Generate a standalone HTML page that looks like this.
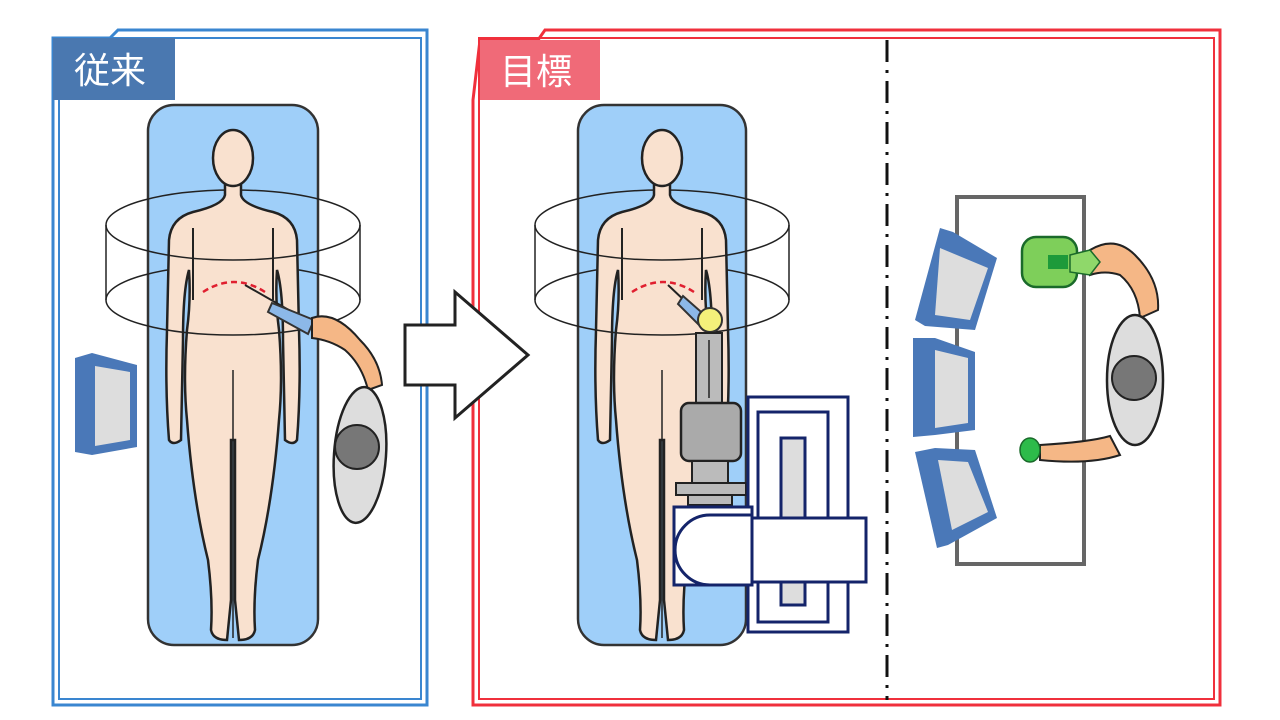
<!DOCTYPE html>
<html><head><meta charset="utf-8"><style>
html,body{margin:0;padding:0;background:#fff;width:1280px;height:720px;overflow:hidden}
svg{display:block}
.t{font-family:"Liberation Sans","Noto Sans CJK JP",sans-serif;font-size:36px;fill:#fff}
</style></head><body>
<svg width="1280" height="720" viewBox="0 0 1280 720" xmlns="http://www.w3.org/2000/svg">
<defs>
<g id="body">
<path d="M-8,183 L-8,195 Q-10,205 -40,212 Q-62,218 -64,240 L-66,330 Q-68,390 -64,440 Q-60,446 -52,440 L-50,340 Q-50,290 -44,270 Q-42,300 -46,330 Q-50,380 -46,420 Q-40,500 -25,560 Q-20,600 -22,630 Q-20,640 -6,640 L-2,600 L-2,440 L2,440 L2,600 L6,640 Q20,640 22,630 Q20,600 25,560 Q40,500 46,420 Q50,380 46,330 Q42,300 44,270 Q50,290 50,340 L52,440 Q60,446 64,440 Q68,390 66,330 L64,240 Q62,218 40,212 Q10,205 8,195 L8,183 Z" fill="#f9e1cf" stroke="#222" stroke-width="2.5"/>
<ellipse cx="0" cy="158" rx="20" ry="28" fill="#f9e1cf" stroke="#222" stroke-width="2.5"/>
<line x1="0" y1="370" x2="0" y2="638" stroke="#222" stroke-width="1.5"/>
<line x1="-40" y1="228" x2="-40" y2="300" stroke="#222" stroke-width="2"/>
<line x1="40" y1="228" x2="40" y2="300" stroke="#222" stroke-width="2"/>
</g>
<g id="cylB" fill="none" stroke="#222" stroke-width="1.5">
<path d="M-127,225 A127,35 0 0 1 127,225"/>
<path d="M-127,300 A127,35 0 0 1 127,300"/>
</g>
<g id="cylF" fill="none" stroke="#222" stroke-width="1.5">
<path d="M-127,225 A127,35 0 0 0 127,225"/>
<path d="M-127,300 A127,35 0 0 0 127,300"/>
<line x1="-127" y1="225" x2="-127" y2="300"/>
<line x1="127" y1="225" x2="127" y2="300"/>
</g>
</defs>

<!-- Left panel -->
<path d="M53,38 L53,705 L427,705 L427,30 L118,30 L110,38 Z" fill="#fff" stroke="#3a86d0" stroke-width="3"/>
<rect x="59" y="38" width="362" height="661" fill="none" stroke="#3a86d0" stroke-width="2"/>
<rect x="53" y="38" width="122" height="62" fill="#4a78b0"/>
<text x="74" y="83" class="t">従来</text>

<rect x="148" y="105" width="170" height="540" rx="26" fill="#9fcff9" stroke="#333" stroke-width="2.5"/>
<g transform="translate(233,0)"><use href="#cylB"/><use href="#body"/><use href="#cylF"/></g>
<path d="M203,292 Q234,272 265,292" fill="none" stroke="#e02030" stroke-width="2.5" stroke-dasharray="6,4"/>
<!-- left doctor -->
<line x1="245" y1="285" x2="315" y2="325" stroke="#222" stroke-width="2"/>
<path d="M272,303 L314,320 L308,334 L268,312 Z" fill="#8cb8e8" stroke="#333" stroke-width="2"/>
<path d="M312,318 Q335,310 360,340 Q380,360 382,385 L368,390 Q362,365 345,350 Q330,340 312,338 Z" fill="#f5b786" stroke="#222" stroke-width="2"/>
<ellipse cx="360" cy="455" rx="26" ry="68" transform="rotate(4 360 455)" fill="#ddd" stroke="#222" stroke-width="2.5"/>
<circle cx="357" cy="447" r="22" fill="#777" stroke="#222" stroke-width="2"/>
<!-- left monitor -->
<path d="M75,358 L92,353 L137,365 L137,447 L92,455 L75,452 Z" fill="#4a78b8"/>
<path d="M95,366 L130,372 L130,440 L95,446 Z" fill="#ddd"/>

<!-- Right panel -->
<path d="M473,100 L473,705 L1220,705 L1220,30 L545,30 L538,40 L480,40 Z" fill="#fff" stroke="#f0303c" stroke-width="3"/>
<rect x="479" y="38" width="735" height="661" fill="none" stroke="#f0303c" stroke-width="2"/>
<rect x="480" y="40" width="120" height="60" fill="#f06a78"/>
<text x="500" y="84" class="t">目標</text>
<line x1="887" y1="40" x2="887" y2="700" stroke="#111" stroke-width="3" stroke-dasharray="22,8,3,8"/>

<!-- Arrow -->
<path d="M405,325 L455,325 L455,292 L528,355 L455,418 L455,385 L405,385 Z" fill="#fff" stroke="#222" stroke-width="3"/>

<rect x="578" y="105" width="168" height="540" rx="26" fill="#9fcff9" stroke="#333" stroke-width="2.5"/>
<g transform="translate(662,0)"><use href="#cylB"/><use href="#body"/><use href="#cylF"/></g>
<path d="M632,292 Q663,272 694,292" fill="none" stroke="#e02030" stroke-width="2.5" stroke-dasharray="6,4"/>
<!-- robot -->
<line x1="668" y1="285" x2="705" y2="320" stroke="#222" stroke-width="2"/>
<path d="M683,296 L708,318 L700,326 L678,304 Z" fill="#8cb8e8" stroke="#333" stroke-width="2"/>
<circle cx="710" cy="320" r="12" fill="#f4f07a" stroke="#333" stroke-width="2"/>
<rect x="696" y="333" width="26" height="70" fill="#bbb" stroke="#222" stroke-width="2"/>
<line x1="709" y1="340" x2="709" y2="398" stroke="#222" stroke-width="1.5"/>
<rect x="681" y="403" width="60" height="58" rx="8" fill="#aaa" stroke="#222" stroke-width="2.5"/>
<rect x="692" y="461" width="36" height="22" fill="#bbb" stroke="#222" stroke-width="2"/>
<rect x="676" y="483" width="70" height="12" fill="#bbb" stroke="#222" stroke-width="2"/>
<rect x="688" y="495" width="44" height="10" fill="#bbb" stroke="#222" stroke-width="2"/>
<rect x="748" y="397" width="100" height="235" fill="#fff" stroke="#14246a" stroke-width="3"/>
<rect x="758" y="412" width="70" height="210" fill="#fff" stroke="#14246a" stroke-width="3"/>
<rect x="781" y="438" width="24" height="167" fill="#ddd" stroke="#14246a" stroke-width="3"/>
<path d="M674,507 L752,507 L752,585 L674,585 Z" fill="#fff" stroke="#14246a" stroke-width="3"/>
<path d="M752,515 L710,515 A35,35 0 0 0 710,585 L752,585" fill="#fff" stroke="#14246a" stroke-width="3"/>
<rect x="752" y="518" width="114" height="64" fill="#fff" stroke="#14246a" stroke-width="3"/>

<!-- console -->
<rect x="957" y="197" width="127" height="367" fill="#fff" stroke="#666" stroke-width="4"/>
<g>
<path d="M915,320 L940,228 L953,232 L997,258 L975,330 L925,326 Z" fill="#4a78b8"/>
<path d="M940,248 L988,268 L970,320 L935,315 Z" fill="#ddd"/>
<path d="M913,338 L935,338 L975,352 L975,430 L935,435 L913,437 Z" fill="#4a78b8"/>
<path d="M935,350 L968,358 L968,423 L935,428 Z" fill="#ddd"/>
<path d="M915,452 L935,448 L975,450 L997,518 L948,545 L937,548 Z" fill="#4a78b8"/>
<path d="M938,460 L968,462 L988,512 L952,530 Z" fill="#ddd"/>
</g>
<!-- operator -->
<path d="M1090,250 Q1115,235 1135,255 Q1160,280 1158,310 L1140,318 Q1138,290 1120,275 Q1105,270 1090,275 Z" fill="#f5b786" stroke="#222" stroke-width="2"/>
<path d="M1040,445 Q1090,442 1110,436 L1120,455 Q1090,465 1040,460 Z" fill="#f5b786" stroke="#222" stroke-width="2"/>
<rect x="1022" y="237" width="55" height="50" rx="14" fill="#7ecf5a" stroke="#1a6a2a" stroke-width="2.5"/>
<rect x="1048" y="255" width="20" height="14" fill="#1d9a3a"/>
<path d="M1070,255 L1090,250 L1100,262 L1090,275 L1070,272 Z" fill="#8fd86a" stroke="#1a6a2a" stroke-width="1.5"/>
<ellipse cx="1030" cy="450" rx="10" ry="12" fill="#2dbb4a" stroke="#1a6a2a" stroke-width="1.5"/>
<ellipse cx="1135" cy="380" rx="28" ry="65" fill="#ddd" stroke="#222" stroke-width="2.5"/>
<circle cx="1134" cy="378" r="22" fill="#777" stroke="#222" stroke-width="2"/>
</svg>
</body></html>
